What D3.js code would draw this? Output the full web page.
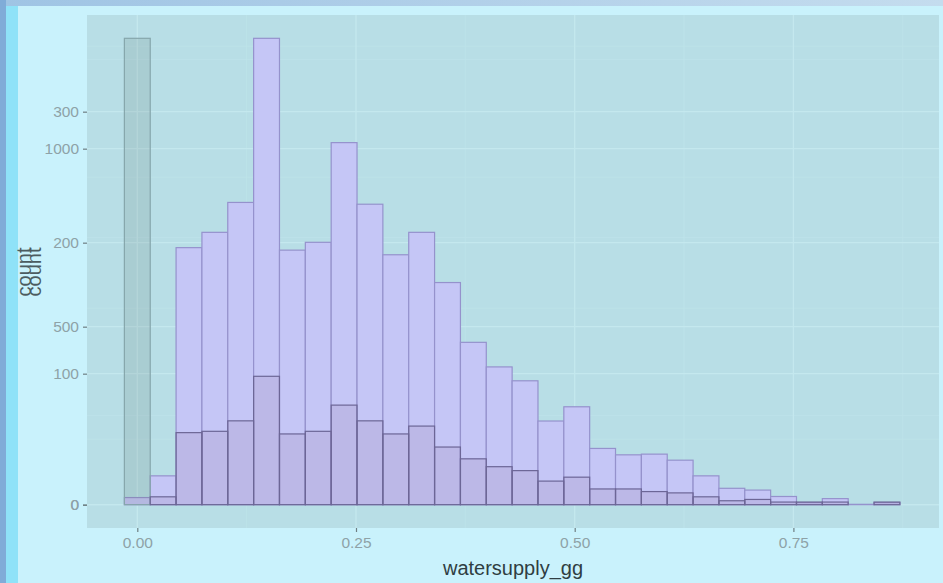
<!DOCTYPE html>
<html>
<head>
<meta charset="utf-8">
<script src="https://cdn.jsdelivr.net/npm/d3@7"></script>
<style>
  html, body { margin: 0; padding: 0; background: #c9f2fc; }
  svg { display: block; }
  text { font-family: "Liberation Sans", Arial, sans-serif; }
</style>
</head>
<body>
<svg id="chart" width="943" height="583"></svg>
<script>
// Histogram bins of watersupply_gg (30 bins, centred on multiples of the bin width)
const binWidth = 0.02955;
const binCount = 30;

// Counts for all records (axis 0 / 500 / 1000)
const countsAll = [20, 81, 722, 765, 849, 1310, 715, 737, 1017, 844,
                   702, 765, 624, 456, 387, 348, 235, 275, 158, 140,
                   142, 125, 81, 46, 41, 23, 6, 17, 1, 6];

// Counts for the subset (axis 0 / 100 / 200 / 300); the first bin is shown in grey
const countsSubset = [356, 6, 55, 56, 64, 98, 54, 56, 76, 64,
                      54, 60, 44, 35, 29, 26, 18, 21, 12, 12,
                      10, 9, 6, 3, 4, 2, 2, 2, 0, 2];

const xTicks = [0, 0.25, 0.5, 0.75];
const xTickLabels = ["0.00", "0.25", "0.50", "0.75"];
const xMinor = [0.125, 0.375, 0.625, 0.875];
const yTicksAll = [0, 500, 1000];
const yMinorAll = [250, 750, 1250];
const yTicksSubset = [0, 100, 200, 300];
const yMinorSubset = [50, 150, 250, 350];

const svg = d3.select("#chart");
const W = 943, H = 583;
const panel = { left: 87, right: 939, top: 15, bottom: 528 };

// slide frame
svg.append("rect").attr("width", W).attr("height", H).attr("fill", "#c9f2fc");
const topGrad = svg.append("defs").append("linearGradient").attr("id", "topband");
topGrad.append("stop").attr("offset", "0%").attr("stop-color", "#9fc4e4");
topGrad.append("stop").attr("offset", "100%").attr("stop-color", "#c4dcee");
svg.append("rect").attr("x", 0).attr("y", 0).attr("width", W).attr("height", 6).attr("fill", "url(#topband)");
svg.append("rect").attr("x", 0).attr("y", 0).attr("width", 6).attr("height", H).attr("fill", "#80acd8");
svg.append("rect").attr("x", 6).attr("y", 6).attr("width", 12).attr("height", H - 6).attr("fill", "#8fe2f8");

const bins = d3.range(binCount).map(i => ({
  x0: i * binWidth - binWidth / 2,
  x1: i * binWidth + binWidth / 2,
  all: countsAll[i],
  sub: countsSubset[i],
  i
}));

const x = d3.scaleLinear()
  .domain([(panel.left - 137.3) / 874.8, (panel.right - 137.3) / 874.8])
  .range([panel.left, panel.right]);

const maxAll = d3.max(countsAll), maxSub = d3.max(countsSubset);
const yAll = d3.scaleLinear()
  .domain([-0.05 * maxAll, maxAll * 1.05]).range([panel.bottom, panel.top]);
const ySub = d3.scaleLinear()
  .domain([-0.05 * maxSub, maxSub * 1.05]).range([panel.bottom, panel.top]);

// panel
svg.append("rect")
  .attr("x", panel.left).attr("y", panel.top)
  .attr("width", panel.right - panel.left).attr("height", panel.bottom - panel.top)
  .attr("fill", "#b8dee6");

const grid = svg.append("g");
const vline = (vals, color, w) => grid.selectAll(null).data(vals).enter().append("line")
  .attr("x1", d => x(d)).attr("x2", d => x(d))
  .attr("y1", panel.top).attr("y2", panel.bottom)
  .attr("stroke", color).attr("stroke-width", w);
const hline = (vals, scale, color, w) => grid.selectAll(null).data(vals).enter().append("line")
  .attr("x1", panel.left).attr("x2", panel.right)
  .attr("y1", d => scale(d)).attr("y2", d => scale(d))
  .attr("stroke", color).attr("stroke-width", w);
hline(yMinorAll, yAll, "#bee3ea", 0.8);
hline(yMinorSubset, ySub, "#bee3ea", 0.8);
vline(xMinor, "#bee3ea", 0.8);
hline(yTicksAll, yAll, "#c4e8ee", 1.3);
hline(yTicksSubset, ySub, "#c4e8ee", 1.3);
vline(xTicks, "#c4e8ee", 1.3);

// all-records histogram
svg.append("g").selectAll("rect").data(bins).enter().append("rect")
  .attr("x", d => x(d.x0))
  .attr("width", d => x(d.x1) - x(d.x0))
  .attr("y", d => yAll(d.all))
  .attr("height", d => yAll(0) - yAll(d.all))
  .attr("fill", "#c5c6f6")
  .attr("stroke", "#9592cc")
  .attr("stroke-width", 1.2);

// subset histogram laid over it
svg.append("g").selectAll("rect").data(bins).enter().append("rect")
  .attr("x", d => x(d.x0))
  .attr("width", d => x(d.x1) - x(d.x0))
  .attr("y", d => ySub(d.sub))
  .attr("height", d => ySub(0) - ySub(d.sub))
  .attr("fill", d => d.i === 0 ? "rgba(84,109,103,0.15)" : "rgba(150,120,165,0.18)")
  .attr("stroke", d => d.i === 0 ? "#86a6ac" : "#6c6696")
  .attr("stroke-width", 1.2);

// axes
const tickColor = "#8ea2a7";
function styleAxis(g) {
  g.select(".domain").remove();
  g.selectAll(".tick line").attr("stroke", "#6f7f83").attr("stroke-width", 1.2);
  g.selectAll(".tick text").attr("fill", tickColor)
    .style("font-family", "'Liberation Sans', Arial, sans-serif")
    .style("font-size", "15.5px");
}
svg.append("g").attr("transform", `translate(${panel.left},0)`)
  .call(d3.axisLeft(yAll).tickValues(yTicksAll).tickSize(4).tickPadding(4).tickFormat(d3.format("d")))
  .call(styleAxis);
svg.append("g").attr("transform", `translate(${panel.left},0)`)
  .call(d3.axisLeft(ySub).tickValues(yTicksSubset).tickSize(4).tickPadding(4).tickFormat(d3.format("d")))
  .call(styleAxis);
svg.append("g").attr("transform", `translate(0,${panel.bottom})`)
  .call(d3.axisBottom(x).tickValues(xTicks).tickSize(4).tickPadding(5)
    .tickFormat((d, i) => xTickLabels[i]))
  .call(styleAxis);

// axis titles
const cx = (panel.left + panel.right) / 2;
svg.append("text")
  .attr("x", cx).attr("y", 575)
  .attr("text-anchor", "middle")
  .attr("fill", "#2f3e42")
  .style("font-size", "20px")
  .text("watersupply_gg");
[31, 41].forEach(bx => {
  svg.append("text")
    .attr("transform", `translate(${bx},272) rotate(-90)`)
    .attr("text-anchor", "middle")
    .attr("fill", "#4c5c60")
    .style("font-size", "20px")
    .text("count");
});
</script>
</body>
</html>
